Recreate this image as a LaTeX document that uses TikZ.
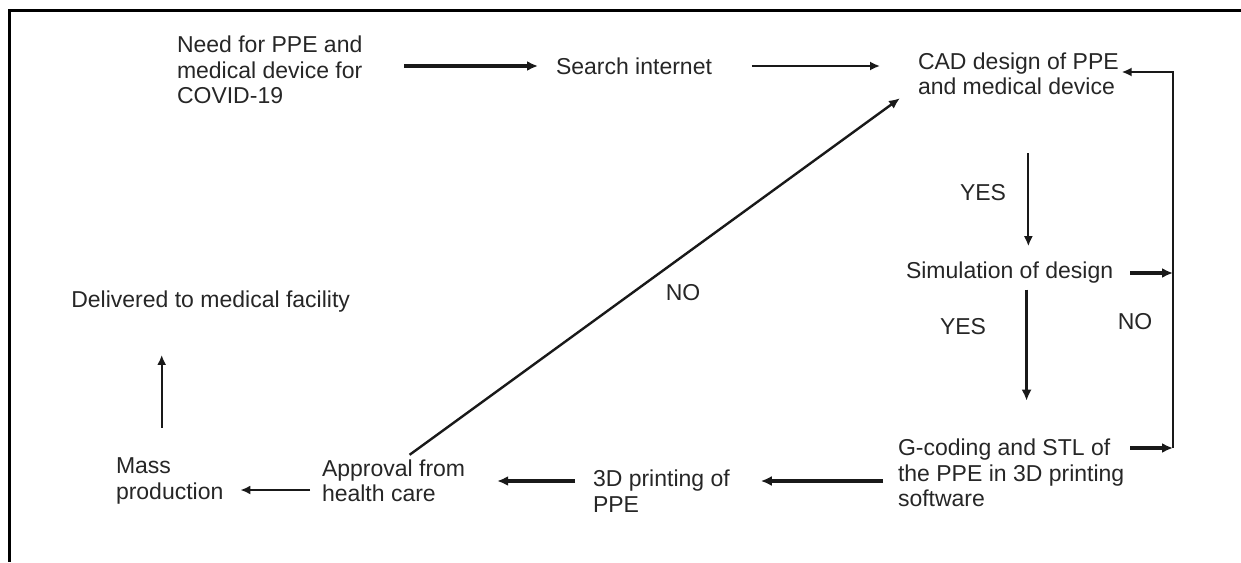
\documentclass[tikz,border=0pt]{standalone}
\usepackage{fontspec}
\setmainfont{Liberation Sans}
\usetikzlibrary{arrows.meta,calc}
\begin{document}
\begin{tikzpicture}[x=1pt,y=-1pt,
  lbl/.style={inner sep=0pt, outer sep=0pt, align=left, font=\fontsize{23}{25.5}\selectfont, text=black!85},
  thk/.style={line width=3.2pt, draw=black!90, -{Latex[length=11pt,width=10pt]}},
  thn/.style={line width=1.8pt, draw=black!90, -{Latex[length=10pt,width=9pt]}},
  frame/.style={line width=3pt, draw=black},
]
\useasboundingbox (0,0) rectangle (1241,562);
% frame
\coordinate (ftr) at (1241,10);
\coordinate (ftl) at (9,10);
\coordinate (fbl) at (9,562);
\draw[frame] (ftr) -- (ftl) -- (fbl);

% nodes
\node[lbl, anchor=west] (need) at (177,70) {Need for PPE and\\medical device for\\COVID-19};
\node[lbl, anchor=west] (search) at (556,66) {Search internet};
\node[lbl, anchor=west] (cad) at (918,74) {CAD design of PPE\\and medical device};
\node[lbl] (yes1) at (983,193) {YES};
\node[lbl, anchor=west] (sim) at (906,273) {Simulation of design};
\node[lbl] (yes2) at (963,327) {YES};
\node[lbl] (no1) at (1135,322) {NO};
\node[lbl, anchor=west] (gcode) at (898,473) {G-coding and STL of\\the PPE in 3D printing\\software};
\node[lbl, anchor=west] (print) at (593,491) {3D printing of\\PPE};
\node[lbl, anchor=west] (appr) at (322,481) {Approval from\\health care};
\node[lbl, anchor=west] (mass) at (116,481) {Mass\\production};
\node[lbl, anchor=east] (deliv) at (350,302) {Delivered to medical facility};
\node[lbl] (no2) at (683,293) {NO};

\coordinate (fb) at (1173,448);

% connectors
\draw[thk, shorten <=42pt, shorten >=18pt] (need.east |- search.west) -- (search.west);
\draw[thn, shorten <=40pt, shorten >=38pt] (search.east) -- (search.east -| cad.west);
\draw[thn] ($(cad.south)+(10,58)$) -- ($(cad.south)+(10,151)$);
\draw[thk, shorten <=17pt] (sim.east) -- (sim.east -| fb);
\draw[thk] ($(sim.south)+(17,6)$) -- ($(sim.south)+(17,117)$);
\draw[thk, shorten <=6pt] (gcode.east |- fb) -- (fb);
\draw[thn, shorten >=3pt] (fb) -- ($(fb |- cad.east)+(0,-2)$) -- ($(cad.east)+(0,-2)$);
\draw[thk, shorten <=15pt, shorten >=31pt] (gcode.west |- appr.east) -- (print.east |- appr.east);
\draw[thk, shorten <=18pt, shorten >=32pt] (print.west |- appr.east) -- (appr.east);
\draw[thn, shorten <=12pt, shorten >=17pt] ($(appr.west)+(0,9)$) -- ($(mass.east)+(0,9)$);
\draw[thn] ($(mass.north)+(-8,-30)$) -- ($(mass.north)+(-8,-103)$);
\draw[line width=2.4pt, draw=black!90, -{Latex[length=11pt,width=9.5pt]}] ($(appr.north)+(16,-5)$) -- ($(cad.south west)+(-18,3)$);
\end{tikzpicture}
\end{document}
